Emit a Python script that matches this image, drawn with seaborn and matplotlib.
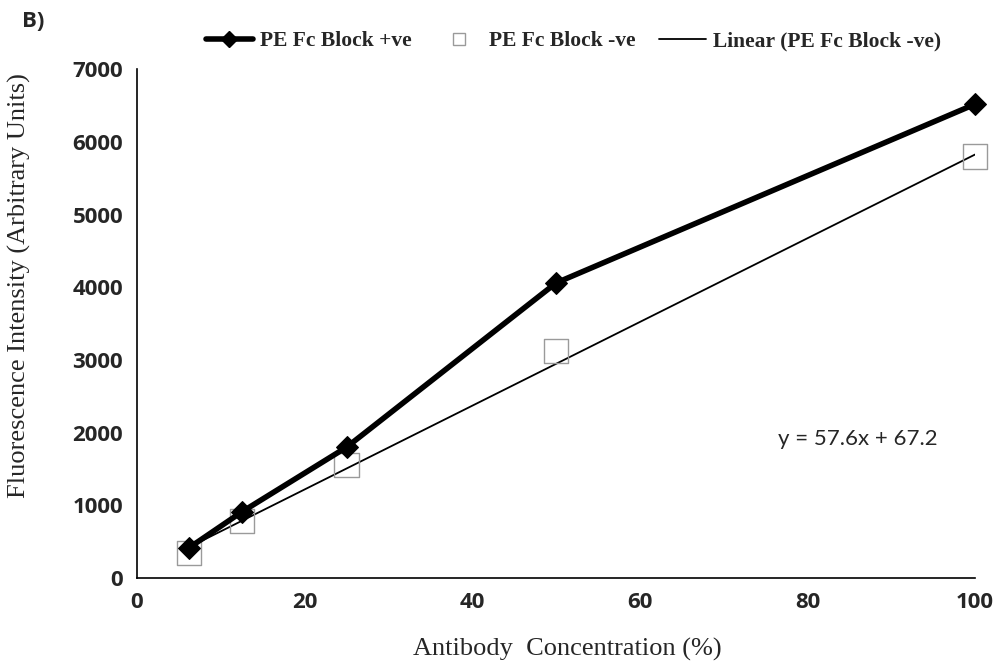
import numpy as np
import pandas as pd
import matplotlib
matplotlib.use("Agg")
import matplotlib.pyplot as plt
import seaborn as sns
from matplotlib.lines import Line2D

conc = [6.25, 12.5, 25, 50, 100]
pos_vals = [420, 910, 1800, 4060, 6520]
neg_vals = [340, 780, 1560, 3120, 5800]
x_ticks = [0, 20, 40, 60, 80, 100]
y_ticks = [0, 1000, 2000, 3000, 4000, 5000, 6000, 7000]
series_labels = ["PE Fc Block +ve", "PE Fc Block -ve", "Linear (PE Fc Block -ve)"]
equation = "y = 57.6x + 67.2"

sns.set_style("white")
plt.rcParams['font.family'] = ['Liberation Serif', 'DejaVu Serif']

df = pd.DataFrame({"conc": conc, "pos": pos_vals, "neg": neg_vals})
slope, intercept = 57.6, 67.2
fit_x = np.array([min(conc), max(conc)])
fit_df = pd.DataFrame({"conc": fit_x, "fit": slope * fit_x + intercept})

fig = plt.figure(figsize=(9.97, 6.66), dpi=100)
ax = fig.add_axes([0.1374, 0.132, 0.8406, 0.764])

sns.lineplot(data=fit_df, x="conc", y="fit", ax=ax, color="black", linewidth=1.3, zorder=2)
sns.scatterplot(data=df, x="conc", y="neg", ax=ax, marker="s", s=300, facecolor="none",
                edgecolor="#9a9a9a", linewidth=1.0, zorder=3, clip_on=False)
sns.lineplot(data=df, x="conc", y="pos", ax=ax, color="black", linewidth=4, marker="D",
             markersize=11, markeredgecolor="black", zorder=4, clip_on=False)

ax.set_xlim(0, 100)
ax.set_ylim(0, 7000)
ax.set_xticks(x_ticks)
ax.set_yticks(y_ticks)
for lab in ax.get_xticklabels() + ax.get_yticklabels():
    lab.set_fontfamily("Open Sans")
    lab.set_fontweight("bold")
    lab.set_fontsize(16)
ax.tick_params(axis="both", direction="out", length=6, width=1.2, color="black", pad=4)
for s in ["top", "right"]:
    ax.spines[s].set_visible(False)
for s in ["left", "bottom"]:
    ax.spines[s].set_color("black")
    ax.spines[s].set_linewidth(1.2)

ax.set_xlabel("Antibody  Concentration (%)", fontsize=19)
ax.set_ylabel("Fluorescence Intensity (Arbitrary Units)", fontsize=19)
ax.xaxis.set_label_coords(0.514, -0.141)
ax.yaxis.set_label_coords(-0.14, 0.574)
ax.xaxis.label.set_va("center")
ax.yaxis.label.set_va("center")

ax.text(76.5, 1920, equation, fontsize=16, family="Lato", ha="left", va="center")
fig.text(0.022, 0.968, "B)", fontsize=16, fontweight="bold", family="Open Sans", ha="left", va="center")

handles = [
    Line2D([0], [0], color="black", linewidth=4, marker="D", markersize=8),
    Line2D([0], [0], color="none", marker="s", markersize=9, markerfacecolor="none",
           markeredgecolor="#9a9a9a"),
    Line2D([0], [0], color="black", linewidth=1.3),
]
fig.legend(handles, series_labels, loc="center", bbox_to_anchor=(0.575, 0.938), ncol=3,
           frameon=False, prop={"family": "Liberation Serif", "weight": "bold", "size": 15.5},
           handlelength=2.2, columnspacing=1.1, handletextpad=0.3)

fig.savefig("out.png", dpi=100)
